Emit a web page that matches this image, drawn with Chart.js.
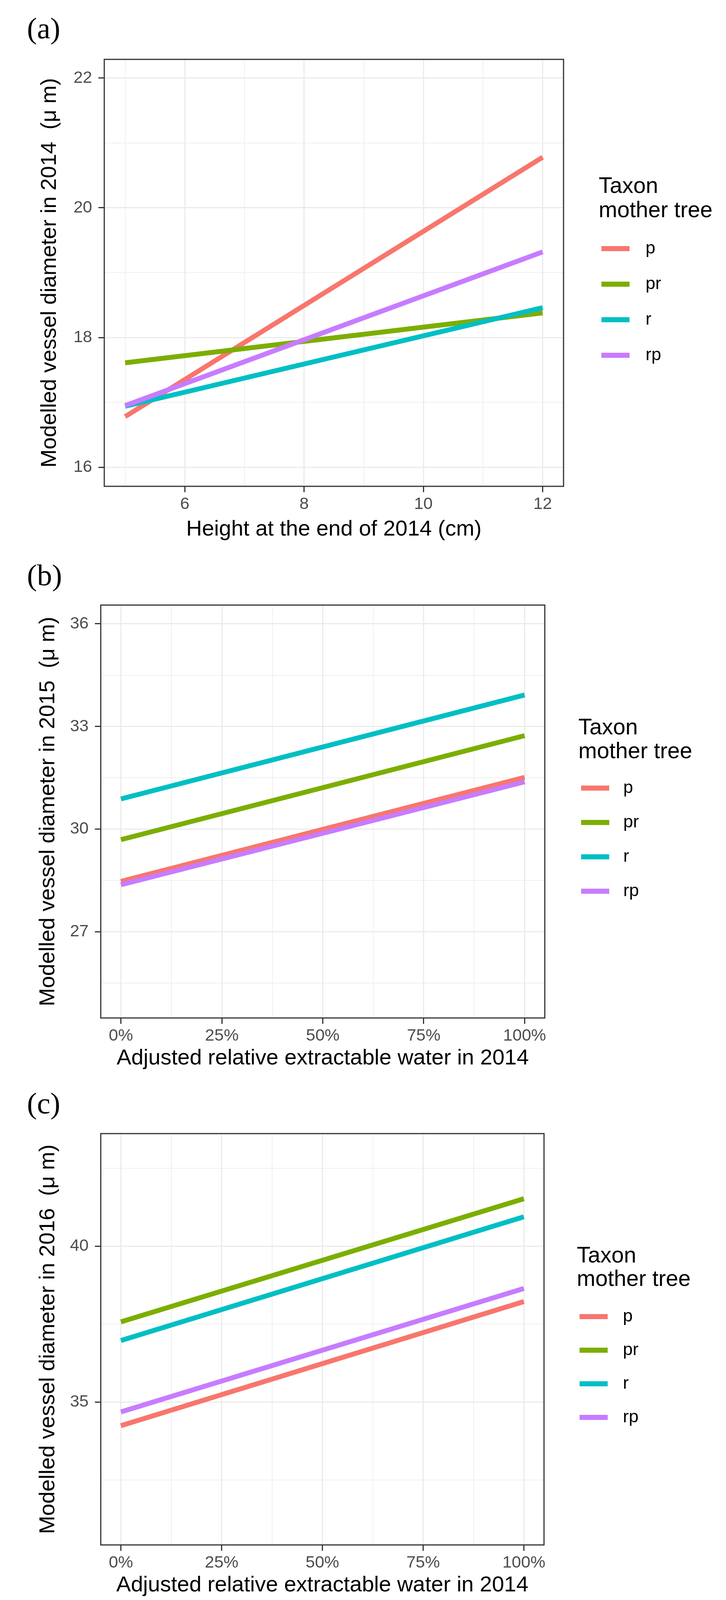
<!DOCTYPE html>
<html lang="en">
<head>
<meta charset="UTF-8" />
<title>Modelled vessel diameter by taxon of mother tree</title>
<style>
  body {
    margin: 0;
    background: #ffffff;
  }
  #page {
    position: relative;
    width: 1859px;
    height: 4129px;
  }
  .panel-label {
    position: absolute;
    left: 69px;
    font-family: "Liberation Serif", serif;
    font-size: 77px;
    line-height: 1;
    color: #000;
  }
  .chart-box {
    position: absolute;
    left: 0;
    width: 1859px;
  }
</style>
<script src="https://cdn.jsdelivr.net/npm/chart.js"></script>
</head>
<body>
<div id="page">
  <div class="panel-label" style="top:34px">(a)</div>
  <div class="chart-box" style="top:100px;height:1289px"><canvas id="chartA"></canvas></div>
  <div class="panel-label" style="top:1434px">(b)</div>
  <div class="chart-box" style="top:1497px;height:1246px"><canvas id="chartB"></canvas></div>
  <div class="panel-label" style="top:2786px">(c)</div>
  <div class="chart-box" style="top:2850px;height:1242px"><canvas id="chartC"></canvas></div>
</div>

<script>
  const taxa = ["p", "pr", "r", "rp"];
  const taxonColors = ["#F8766D", "#7CAE00", "#00BFC4", "#C77CFF"];
  const legendTitle = ["Taxon", "mother tree"];

  // (a) fitted lines, height at end of 2014 (cm)
  const heightCm = [5, 12];
  const diam2014 = [[16.78, 20.78], [17.61, 18.38], [16.94, 18.46], [16.95, 19.32]];

  // (b), (c) fitted lines, adjusted REW in 2014 (%)
  const rew2014 = [0, 100];
  const diam2015 = [[28.47, 31.51], [29.69, 32.73], [30.88, 33.92], [28.37, 31.38]];
  const diam2016 = [[34.24, 38.22], [37.57, 41.52], [36.97, 40.94], [34.68, 38.64]];

  // ticks (major ones get labels)
  const xMajorA = [6, 8, 10, 12];
  const xMinorA = [5, 7, 9, 11];
  const yMajorA = [16, 18, 20, 22];
  const yMinorA = [17, 19, 21];
  const xMajorRew = [0, 25, 50, 75, 100];
  const xMinorRew = [12.5, 37.5, 62.5, 87.5];
  const yMajorB = [27, 30, 33, 36];
  const yMinorB = [25.5, 28.5, 31.5, 34.5];
  const yMajorC = [35, 40];
  const yMinorC = [32.5, 37.5, 42.5];

  const FONT = '"Liberation Sans", "Noto Sans CJK SC", sans-serif';

  function tickList(major, minor) {
    return major.map((v) => ({ value: v, major: true }))
      .concat(minor.map((v) => ({ value: v, major: false })))
      .sort((a, b) => a.value - b.value);
  }

  function axisOptions(o) {
    return {
      type: "linear",
      min: o.min,
      max: o.max,
      afterBuildTicks: (scale) => {
        scale.ticks = tickList(o.major, o.minor);
      },
      afterFit: (scale) => {
        if (o.width) scale.width = o.width;
        if (o.height) scale.height = o.height;
      },
      border: { display: false },
      grid: {
        color: "#ebebeb",
        lineWidth: (c) => (c.tick && c.tick.major ? 3 : 1.5),
        tickColor: (c) => (c.tick && c.tick.major ? "#333333" : "rgba(0,0,0,0)"),
        tickWidth: 3,
        tickLength: 15,
      },
      ticks: {
        autoSkip: false,
        maxRotation: 0,
        padding: o.tickPad,
        color: "#4d4d4d",
        font: { family: FONT, size: 43 },
        callback: (v, i, ticks) => (ticks[i].major ? o.fmt(v) : ""),
      },
      title: {
        display: true,
        text: o.title,
        color: "#000000",
        padding: 0,
        font: { family: FONT, size: 56 },
      },
    };
  }

  const panelBorder = {
    id: "panelBorder",
    afterDatasetsDraw(chart) {
      const { ctx, chartArea: a } = chart;
      ctx.save();
      ctx.strokeStyle = "#333333";
      ctx.lineWidth = 3;
      ctx.strokeRect(a.left, a.top, a.right - a.left, a.bottom - a.top);
      ctx.restore();
    },
  };

  // ggplot-style legend to the right of the panel
  const taxonLegend = {
    id: "taxonLegend",
    afterDraw(chart, args, o) {
      const { ctx, chartArea: a } = chart;
      const cy = (a.top + a.bottom) / 2;
      ctx.save();
      ctx.textAlign = "left";
      ctx.textBaseline = "alphabetic";
      ctx.fillStyle = "#000000";
      ctx.font = "57px " + FONT;
      ctx.fillText(legendTitle[0], a.right + o.titleX, cy + o.titleY[0]);
      ctx.fillText(legendTitle[1], a.right + o.titleX, cy + o.titleY[1]);
      ctx.font = "45px " + FONT;
      ctx.textBaseline = "middle";
      chart.data.datasets.forEach((ds, i) => {
        const y = cy + o.keyY + i * o.keyStep;
        ctx.strokeStyle = ds.borderColor;
        ctx.lineWidth = 13;
        ctx.lineCap = "butt";
        ctx.beginPath();
        ctx.moveTo(a.right + o.keyX, y);
        ctx.lineTo(a.right + o.keyX + 72, y);
        ctx.stroke();
        ctx.fillText(ds.label, a.right + o.labelX, y);
      });
      ctx.restore();
    },
  };

  function makeChart(id, p) {
    const datasets = taxa.map((name, i) => ({
      label: name,
      data: p.xs.map((x, j) => ({ x: x, y: p.series[i][j] })),
      borderColor: taxonColors[i],
      backgroundColor: taxonColors[i],
      borderWidth: 12.5,
      borderCapStyle: "butt",
      pointRadius: 0,
      tension: 0,
      order: taxa.length - i,
    }));

    new Chart(document.getElementById(id), {
      type: "line",
      data: { datasets: datasets },
      options: {
        responsive: true,
        maintainAspectRatio: false,
        devicePixelRatio: 1,
        animation: false,
        events: [],
        layout: {
          padding: { left: p.padLeft, top: 52, right: p.padRight, bottom: 0 },
        },
        scales: {
          x: axisOptions({
            min: p.xMin, max: p.xMax, major: p.xMajor, minor: p.xMinor,
            height: p.xHeight, tickPad: 5, fmt: p.xFmt, title: p.xTitle,
          }),
          y: axisOptions({
            min: p.yMin, max: p.yMax, major: p.yMajor, minor: p.yMinor,
            width: p.yWidth, tickPad: 16, fmt: (v) => String(v), title: p.yTitle,
          }),
        },
        plugins: {
          legend: { display: false },
          tooltip: { enabled: false },
          taxonLegend: p.legend,
        },
      },
      plugins: [panelBorder, taxonLegend],
    });
  }

  makeChart("chartA", {
    xs: heightCm, series: diam2014,
    xMin: 4.65, xMax: 12.35, xMajor: xMajorA, xMinor: xMinorA,
    yMin: 15.705, yMax: 22.289, yMajor: yMajorA, yMinor: yMinorA,
    xFmt: (v) => String(v),
    xTitle: "Height at the end of 2014 (cm)",
    yTitle: "Modelled vessel diameter in 2014  (μ m)",
    padLeft: 94, yWidth: 267 - 94, padRight: 1859 - 1443, xHeight: 1389 - 1245,
    legend: { titleX: 90, titleY: [-205, -143], keyX: 97, keyY: -62, keyStep: 91, labelX: 210 },
  });

  makeChart("chartB", {
    xs: rew2014, series: diam2015,
    xMin: -5, xMax: 105, xMajor: xMajorRew, xMinor: xMinorRew,
    yMin: 24.476, yMax: 36.548, yMajor: yMajorB, yMinor: yMinorB,
    xFmt: (v) => v + "%",
    xTitle: "Adjusted relative extractable water in 2014",
    yTitle: "Modelled vessel diameter in 2015  (μ m)",
    padLeft: 90, yWidth: 258 - 90, padRight: 1859 - 1395, xHeight: 2743 - 2606,
    legend: { titleX: 86, titleY: [-198, -137], keyX: 93, keyY: -60, keyStep: 88, labelX: 201 },
  });

  makeChart("chartC", {
    xs: rew2014, series: diam2016,
    xMin: -5, xMax: 105, xMajor: xMajorRew, xMinor: xMinorRew,
    yMin: 30.414, yMax: 43.609, yMajor: yMajorC, yMinor: yMinorC,
    xFmt: (v) => v + "%",
    xTitle: "Adjusted relative extractable water in 2014",
    yTitle: "Modelled vessel diameter in 2016  (μ m)",
    padLeft: 90, yWidth: 258 - 90, padRight: 1859 - 1393, xHeight: 4092 - 3955,
    legend: { titleX: 84, titleY: [-197, -137], keyX: 91, keyY: -58, keyStep: 86, labelX: 202 },
  });
</script>
</body>
</html>
